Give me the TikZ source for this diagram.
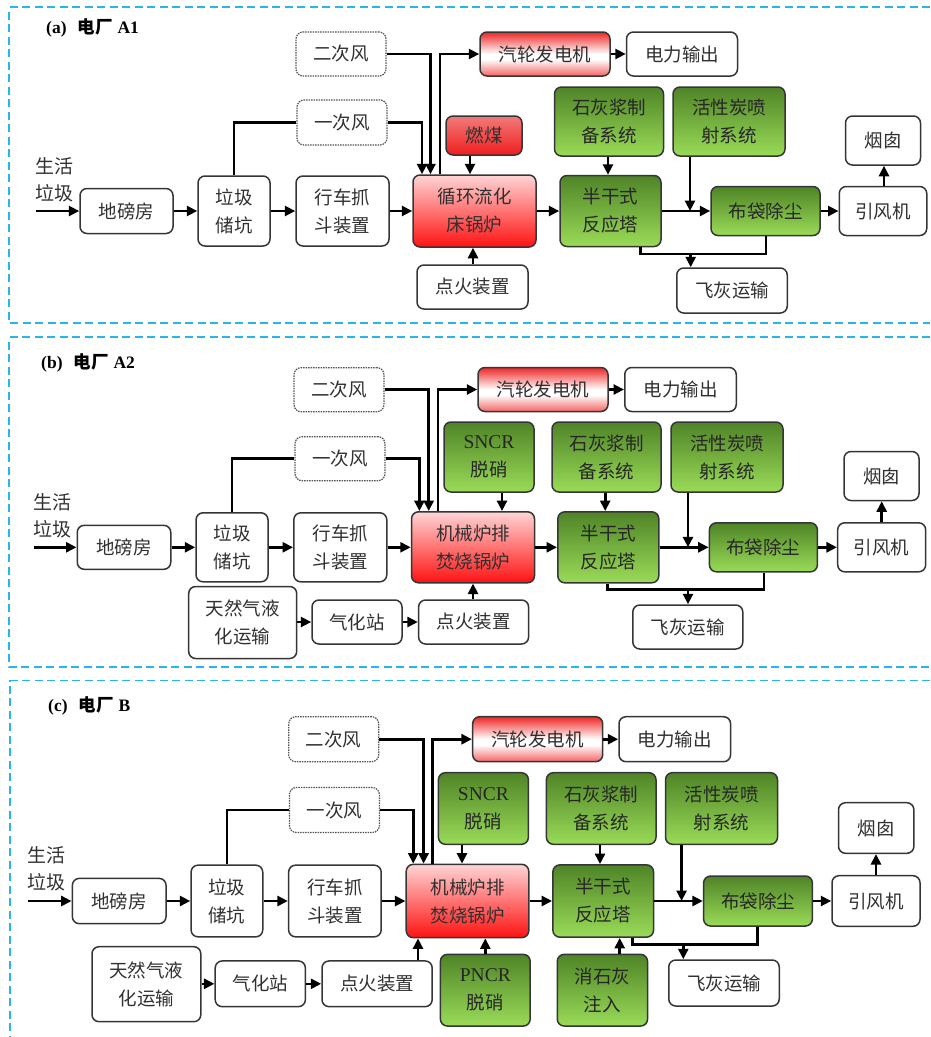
\documentclass[tikz,border=0pt]{standalone}
\usepackage{fontspec}
\setmainfont{Liberation Serif}
\newfontfamily\cjk{Noto Sans CJK SC}
\usetikzlibrary{arrows.meta}

\definecolor{framec}{HTML}{2AB4EE}
\definecolor{boxline}{HTML}{353535}
\definecolor{txt}{HTML}{303030}
\definecolor{boiltop}{HTML}{FFD4D4}
\definecolor{boilbot}{HTML}{FF1212}
\definecolor{coaltop}{HTML}{F27A7A}
\definecolor{coalbot}{HTML}{F01E1E}
\definecolor{turbtop}{HTML}{EE2626}
\definecolor{turbbot}{HTML}{F46464}
\definecolor{grntop}{HTML}{4F8427}
\definecolor{grnbot}{HTML}{9ADB58}

% steam-turbine fill: red top, white band, pink-red bottom
\pgfdeclareverticalshading{turbshade}{100bp}{
  color(0bp)=(turbbot); color(25bp)=(turbbot); color(44bp)=(white);
  color(50bp)=(white); color(75bp)=(turbtop); color(100bp)=(turbtop)}

\newcommand\lat[1]{{\rmfamily\fontsize{19.5}{28}\selectfont #1}}

\tikzset{
  box/.style={draw=boxline, line width=1.5pt, rounded corners=7pt, inner sep=0pt,
    align=center, text=txt, font=\cjk\fontsize{18.5}{28}\selectfont},
  wbox/.style={box, fill=white},
  dbox/.style={box, draw=boxline!85, densely dotted, line width=1.2pt},
  boilbox/.style={box, top color=boiltop, bottom color=boilbot},
  coalbox/.style={box, top color=coaltop, bottom color=coalbot},
  turbbox/.style={box, shading=turbshade},
  gbox/.style={box, top color=grntop, bottom color=grnbot, text=black!85},
  plain/.style={inner sep=0pt, align=center, text=txt, font=\cjk\fontsize{19}{27}\selectfont},
  title/.style={inner sep=0pt, anchor=west, font=\bfseries\fontsize{17.5}{20}\selectfont},
  flow/.style={line width=2.6pt, -{Triangle[length=10.5pt,width=10pt]}},
  link/.style={line width=2.6pt},
  frame/.style={draw=framec, line width=1.8pt, dash pattern=on 8pt off 4.5pt}
}

\begin{document}
\begin{tikzpicture}[x=1pt,y=-1pt]
\useasboundingbox (0,0) rectangle (930,1037);

% ---------- frames ----------
\draw[frame] (930,7.3) -- (9.3,7.3) -- (9.3,323.3) -- (930,323.3);
\draw[frame] (930,337.3) -- (9.3,337.3) -- (9.3,667.3) -- (930,667.3);
\draw[frame] (930,680.5) -- (10.3,680.5) -- (10.3,1037);

% =====================================================
% (a) plant A1
% =====================================================
\node[title] (a_t) at (46,28) {(a)\hspace{11pt}{\cjk 电厂}\hspace{5pt}A1};

\node[dbox, minimum width=90pt, minimum height=44pt] (a_two) at (341,54) {二次风};
\node[dbox, minimum width=90pt, minimum height=45pt] (a_one) at (342,122.5) {一次风};
\node[turbbox, minimum width=130pt, minimum height=44pt] (a_turb) at (545,54) {汽轮发电机};
\node[wbox, minimum width=111pt, minimum height=44pt] (a_pow) at (682,54) {电力输出};
\node[coalbox, minimum width=76pt, minimum height=39pt] (a_coal) at (484,135.5) {燃煤};
\node[gbox, minimum width=109pt, minimum height=69pt] (a_lime) at (609,121.5) {石灰浆制\\备系统};
\node[gbox, minimum width=112pt, minimum height=69pt] (a_ac) at (729,121.5) {活性炭喷\\射系统};
\node[wbox, minimum width=75pt, minimum height=49pt] (a_chim) at (883,140.5) {烟囱};

\node[plain] (a_src) at (54,180) {生活\\垃圾};
\node[wbox, minimum width=93pt, minimum height=45pt] (a_wb) at (126.5,211) {地磅房};
\node[wbox, minimum width=72pt, minimum height=70pt] (a_pit) at (234,211) {垃圾\\储坑};
\node[wbox, minimum width=93pt, minimum height=70pt] (a_crane) at (342.5,211) {行车抓\\斗装置};
\node[boilbox, minimum width=123pt, minimum height=72pt] (a_boil) at (474.5,211) {循环流化\\床锅炉};
\node[gbox, minimum width=101pt, minimum height=71pt] (a_semi) at (610.5,211) {半干式\\反应塔};
\node[gbox, minimum width=109pt, minimum height=49pt] (a_bag) at (765.5,211) {布袋除尘};
\node[wbox, minimum width=87.5pt, minimum height=49pt] (a_fan) at (883,211) {引风机};
\node[wbox, minimum width=111pt, minimum height=44pt] (a_ign) at (472.5,287) {点火装置};
\node[wbox, minimum width=110.5pt, minimum height=45pt] (a_ash) at (732,290.5) {飞灰运输};

\coordinate (a_in) at (35.5,211);
\coordinate (a_d1) at (422,0);
\coordinate (a_d2) at (430.5,0);
\coordinate (a_d3) at (440,0);
\coordinate (a_d4) at (470,0);
\coordinate (a_d5) at (473,0);
\coordinate (a_d6) at (608,0);
\coordinate (a_d7) at (884,0);
\coordinate (a_j) at (690,211);
\coordinate (a_f1) at (640.7,254);
\coordinate (a_f2) at (765.8,254);
\coordinate (a_f3) at (690.7,254);

\draw[flow] (a_in) -- (a_wb.west);
\draw[flow] (a_wb) -- (a_pit);
\draw[flow] (a_pit) -- (a_crane);
\draw[flow] (a_crane) -- (a_boil);
\draw[flow] (a_boil) -- (a_semi);
\draw[flow] (a_semi) -- (a_bag);
\draw[flow] (a_bag) -- (a_fan);
\draw[flow] (a_fan.north -| a_d7) -- (a_chim.south -| a_d7);
\draw[link] (a_pit.north) |- (a_one.west);
\draw[flow] (a_one.east) -| (a_d1 |- a_boil.north);
\draw[flow] (a_two.east) -| (a_d2 |- a_boil.north);
\draw[flow] (a_d3 |- a_boil.north) |- (a_turb.west);
\draw[flow] (a_turb) -- (a_pow);
\draw[flow] (a_coal.south -| a_d4) -- (a_boil.north -| a_d4);
\draw[flow] (a_ign.north -| a_d5) -- (a_boil.south -| a_d5);
\draw[flow] (a_lime.south -| a_d6) -- (a_semi.north -| a_d6);
\draw[flow] (a_ac.south -| a_j) -- (a_j);
\draw[link] (a_semi.south -| a_f1) -- (a_f1) -- (a_f2) -- (a_bag.south -| a_f2);
\draw[flow] (a_f3) -- (a_ash.north -| a_f3);

% =====================================================
% (b) plant A2
% =====================================================
\node[title] (b_t) at (41,363.3) {(b)\hspace{11pt}{\cjk 电厂}\hspace{5pt}A2};

\node[dbox, minimum width=90pt, minimum height=44pt] (b_two) at (339,389.7) {二次风};
\node[dbox, minimum width=90pt, minimum height=44pt] (b_one) at (340,458.7) {一次风};
\node[turbbox, minimum width=130pt, minimum height=44pt] (b_turb) at (543,389.5) {汽轮发电机};
\node[wbox, minimum width=111.5pt, minimum height=44pt] (b_pow) at (680.5,389.5) {电力输出};
\node[gbox, minimum width=90pt, minimum height=70pt] (b_sncr) at (489,457) {\lat{SNCR}\\脱硝};
\node[gbox, minimum width=109pt, minimum height=70pt] (b_lime) at (606.5,457) {石灰浆制\\备系统};
\node[gbox, minimum width=112pt, minimum height=70pt] (b_ac) at (727,457) {活性炭喷\\射系统};
\node[wbox, minimum width=75pt, minimum height=49pt] (b_chim) at (881.5,476) {烟囱};

\node[plain] (b_src) at (52,516) {生活\\垃圾};
\node[wbox, minimum width=93.5pt, minimum height=44pt] (b_wb) at (124,547.3) {地磅房};
\node[wbox, minimum width=72pt, minimum height=69pt] (b_pit) at (232,547.3) {垃圾\\储坑};
\node[wbox, minimum width=93pt, minimum height=69pt] (b_crane) at (340.3,547.3) {行车抓\\斗装置};
\node[boilbox, minimum width=123pt, minimum height=71pt] (b_boil) at (473,547.3) {机械炉排\\焚烧锅炉};
\node[gbox, minimum width=101pt, minimum height=71pt] (b_semi) at (608.3,547.3) {半干式\\反应塔};
\node[gbox, minimum width=108pt, minimum height=49pt] (b_bag) at (763.4,547.3) {布袋除尘};
\node[wbox, minimum width=88pt, minimum height=49pt] (b_fan) at (881.7,547.3) {引风机};
\node[wbox, minimum width=108pt, minimum height=72pt] (b_lng) at (242.7,622.5) {天然气液\\化运输};
\node[wbox, minimum width=90pt, minimum height=44pt] (b_gas) at (357,622) {气化站};
\node[wbox, minimum width=110pt, minimum height=44pt] (b_ign) at (473.6,622) {点火装置};
\node[wbox, minimum width=110pt, minimum height=44pt] (b_ash) at (687.8,627) {飞灰运输};

\coordinate (b_in) at (34,547.3);
\coordinate (b_d1) at (419.4,0);
\coordinate (b_d2) at (428.7,0);
\coordinate (b_d3) at (438,0);
\coordinate (b_d4) at (502,0);
\coordinate (b_d5) at (473,0);
\coordinate (b_d6) at (605.2,0);
\coordinate (b_d7) at (881.7,0);
\coordinate (b_j) at (688,547.3);
\coordinate (b_f1) at (607.2,589.3);
\coordinate (b_f2) at (764,589.3);
\coordinate (b_f3) at (688,589.3);

\draw[flow] (b_in) -- (b_wb.west);
\draw[flow] (b_wb) -- (b_pit);
\draw[flow] (b_pit) -- (b_crane);
\draw[flow] (b_crane) -- (b_boil);
\draw[flow] (b_boil) -- (b_semi);
\draw[flow] (b_semi) -- (b_bag);
\draw[flow] (b_bag) -- (b_fan);
\draw[flow] (b_fan.north -| b_d7) -- (b_chim.south -| b_d7);
\draw[link] (b_pit.north) |- (b_one.west);
\draw[flow] (b_one.east) -| (b_d1 |- b_boil.north);
\draw[flow] (b_two.east) -| (b_d2 |- b_boil.north);
\draw[flow] (b_d3 |- b_boil.north) |- (b_turb.west);
\draw[flow] (b_turb) -- (b_pow);
\draw[flow] (b_sncr.south -| b_d4) -- (b_boil.north -| b_d4);
\draw[flow] (b_ign.north -| b_d5) -- (b_boil.south -| b_d5);
\draw[flow] (b_lng.east |- b_gas) -- (b_gas);
\draw[flow] (b_gas) -- (b_ign);
\draw[flow] (b_lime.south -| b_d6) -- (b_semi.north -| b_d6);
\draw[flow] (b_ac.south -| b_j) -- (b_j);
\draw[link] (b_semi.south -| b_f1) -- (b_f1) -- (b_f2) -- (b_bag.south -| b_f2);
\draw[flow] (b_f3) -- (b_ash.north -| b_f3);

% =====================================================
% (c) plant B
% =====================================================
\node[title] (c_t) at (48,706) {(c)\hspace{11pt}{\cjk 电厂}\hspace{5pt}B};

\node[dbox, minimum width=90pt, minimum height=45pt] (c_two) at (333.7,739.2) {二次风};
\node[dbox, minimum width=90pt, minimum height=45pt] (c_one) at (334.4,810) {一次风};
\node[turbbox, minimum width=130pt, minimum height=45pt] (c_turb) at (537.7,739.2) {汽轮发电机};
\node[wbox, minimum width=111.6pt, minimum height=45pt] (c_pow) at (674.8,739.2) {电力输出};
\node[gbox, minimum width=90pt, minimum height=71.6pt] (c_sncr) at (483.4,808.5) {\lat{SNCR}\\脱硝};
\node[gbox, minimum width=109.6pt, minimum height=71.6pt] (c_lime) at (601.2,808.5) {石灰浆制\\备系统};
\node[gbox, minimum width=112pt, minimum height=71.6pt] (c_ac) at (721.5,808.5) {活性炭喷\\射系统};
\node[wbox, minimum width=75.4pt, minimum height=50.6pt] (c_chim) at (876.2,828) {烟囱};

\node[plain] (c_src) at (46.5,868.3) {生活\\垃圾};
\node[wbox, minimum width=93.7pt, minimum height=45.3pt] (c_wb) at (119.2,901) {地磅房};
\node[wbox, minimum width=71.7pt, minimum height=71.7pt] (c_pit) at (226.9,901) {垃圾\\储坑};
\node[wbox, minimum width=92.6pt, minimum height=71.7pt] (c_crane) at (334.9,901) {行车抓\\斗装置};
\node[boilbox, minimum width=122.6pt, minimum height=73.3pt] (c_boil) at (467.5,901) {机械炉排\\焚烧锅炉};
\node[gbox, minimum width=100.7pt, minimum height=72.3pt] (c_semi) at (603.2,901) {半干式\\反应塔};
\node[gbox, minimum width=108.8pt, minimum height=50pt] (c_bag) at (758,901) {布袋除尘};
\node[wbox, minimum width=88pt, minimum height=50.6pt] (c_fan) at (876,901) {引风机};
\node[wbox, minimum width=108.8pt, minimum height=75pt] (c_lng) at (146.4,984.2) {天然气液\\化运输};
\node[wbox, minimum width=90.2pt, minimum height=45.7pt] (c_gas) at (260.3,983.8) {气化站};
\node[wbox, minimum width=110.2pt, minimum height=45.7pt] (c_ign) at (377.1,983.8) {点火装置};
\node[gbox, minimum width=89.8pt, minimum height=71.7pt] (c_pncr) at (485.3,990.2) {\lat{PNCR}\\脱硝};
\node[gbox, minimum width=90.3pt, minimum height=71.7pt] (c_slake) at (602.4,990.2) {消石灰\\注入};
\node[wbox, minimum width=110.5pt, minimum height=46pt] (c_ash) at (724,983) {飞灰运输};

\coordinate (c_in) at (27.5,901);
\coordinate (c_d1) at (413.2,0);
\coordinate (c_d2) at (423.6,0);
\coordinate (c_d3) at (432.2,0);
\coordinate (c_d4) at (462,0);
\coordinate (c_d5) at (418,0);
\coordinate (c_d8) at (485.3,0);
\coordinate (c_d6) at (600,0);
\coordinate (c_d9) at (619.7,0);
\coordinate (c_d7) at (876,0);
\coordinate (c_j) at (681.6,901);
\coordinate (c_f1) at (632.6,944.3);
\coordinate (c_f2) at (757.7,944.3);
\coordinate (c_f3) at (683.3,944.3);

\draw[flow] (c_in) -- (c_wb.west);
\draw[flow] (c_wb) -- (c_pit);
\draw[flow] (c_pit) -- (c_crane);
\draw[flow] (c_crane) -- (c_boil);
\draw[flow] (c_boil) -- (c_semi);
\draw[flow] (c_semi) -- (c_bag);
\draw[flow] (c_bag) -- (c_fan);
\draw[flow] (c_fan.north -| c_d7) -- (c_chim.south -| c_d7);
\draw[link] (c_pit.north) |- (c_one.west);
\draw[flow] (c_one.east) -| (c_d1 |- c_boil.north);
\draw[flow] (c_two.east) -| (c_d2 |- c_boil.north);
\draw[flow] (c_d3 |- c_boil.north) |- (c_turb.west);
\draw[flow] (c_turb) -- (c_pow);
\draw[flow] (c_sncr.south -| c_d4) -- (c_boil.north -| c_d4);
\draw[flow] (c_pncr.north -| c_d8) -- (c_boil.south -| c_d8);
\draw[flow] (c_ign.north -| c_d5) -- (c_boil.south -| c_d5);
\draw[flow] (c_lng.east |- c_gas) -- (c_gas);
\draw[flow] (c_gas) -- (c_ign);
\draw[flow] (c_lime.south -| c_d6) -- (c_semi.north -| c_d6);
\draw[flow] (c_slake.north -| c_d9) -- (c_semi.south -| c_d9);
\draw[flow] (c_ac.south -| c_j) -- (c_j);
\draw[link] (c_semi.south -| c_f1) -- (c_f1) -- (c_f2) -- (c_bag.south -| c_f2);
\draw[flow] (c_f3) -- (c_ash.north -| c_f3);

\end{tikzpicture}
\end{document}
